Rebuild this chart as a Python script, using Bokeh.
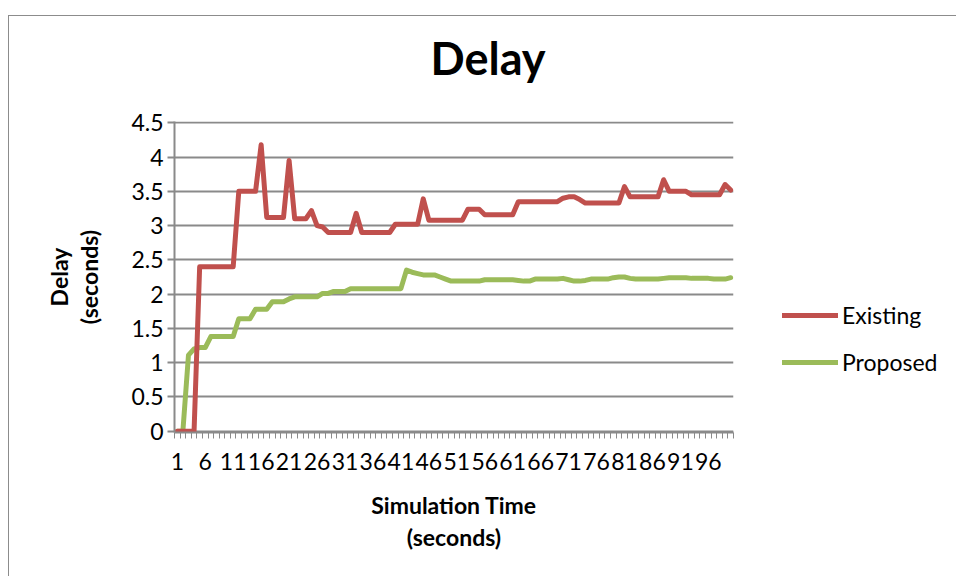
from bokeh.plotting import figure
from bokeh.layouts import row
from bokeh.models import FixedTicker, CustomJSTickFormatter, Legend, LegendItem, Title
from bokeh.embed import file_html
from bokeh.resources import INLINE

# ---- data ----
time = list(range(1, 101))  # simulation time categories (seconds)

existing = [
    0, 0, 0, 0, 2.4, 2.4, 2.4, 2.4, 2.4, 2.4,
    2.4, 3.5, 3.5, 3.5, 3.5, 4.18, 3.12, 3.12, 3.12, 3.12,
    3.95, 3.1, 3.1, 3.1, 3.22, 3.0, 2.98, 2.9, 2.9, 2.9,
    2.9, 2.9, 3.18, 2.9, 2.9, 2.9, 2.9, 2.9, 2.9, 3.02,
    3.02, 3.02, 3.02, 3.02, 3.39, 3.08, 3.08, 3.08, 3.08, 3.08,
    3.08, 3.08, 3.24, 3.24, 3.24, 3.16, 3.16, 3.16, 3.16, 3.16,
    3.16, 3.35, 3.35, 3.35, 3.35, 3.35, 3.35, 3.35, 3.35, 3.4,
    3.42, 3.42, 3.38, 3.33, 3.33, 3.33, 3.33, 3.33, 3.33, 3.33,
    3.57, 3.42, 3.42, 3.42, 3.42, 3.42, 3.42, 3.67, 3.5, 3.5,
    3.5, 3.5, 3.45, 3.45, 3.45, 3.45, 3.45, 3.45, 3.6, 3.52,
]

proposed = [
    0, 0, 1.11, 1.2, 1.22, 1.22, 1.38, 1.38, 1.38, 1.38,
    1.38, 1.64, 1.64, 1.64, 1.78, 1.78, 1.78, 1.89, 1.89, 1.89,
    1.93, 1.96, 1.96, 1.96, 1.96, 1.96, 2.01, 2.01, 2.04, 2.04,
    2.04, 2.08, 2.08, 2.08, 2.08, 2.08, 2.08, 2.08, 2.08, 2.08,
    2.08, 2.35, 2.32, 2.3, 2.28, 2.28, 2.28, 2.25, 2.22, 2.19,
    2.19, 2.19, 2.19, 2.19, 2.19, 2.21, 2.21, 2.21, 2.21, 2.21,
    2.21, 2.2, 2.19, 2.19, 2.22, 2.22, 2.22, 2.22, 2.22, 2.23,
    2.21, 2.19, 2.19, 2.2, 2.22, 2.22, 2.22, 2.22, 2.24, 2.25,
    2.25, 2.23, 2.22, 2.22, 2.22, 2.22, 2.22, 2.23, 2.24, 2.24,
    2.24, 2.24, 2.23, 2.23, 2.23, 2.23, 2.22, 2.22, 2.22, 2.24,
]

x_tick_values = [1, 6, 11, 16, 21, 26, 31, 36, 41, 46, 51, 56, 61, 66, 71, 76, 81, 86, 91, 96]
y_tick_values = [0, 0.5, 1, 1.5, 2, 2.5, 3, 3.5, 4, 4.5]

chart_title = "Delay"
series_names = ["Existing", "Proposed"]
series_colors = ["#C0504D", "#9BBB59"]

GRID = "#8a8a8a"
FONT = "Lato"

# ---- layout constants ----
H = 560
LEFT, PLOT_W, RIGHT = 165, 559, 30
W_MAIN = LEFT + PLOT_W + RIGHT
W_LEG = 947 - W_MAIN
n_cat = len(time)

p = figure(
    width=W_MAIN, height=H,
    output_backend="svg", toolbar_location=None, title=None,
    x_range=(0.5, n_cat + 0.5), y_range=(-0.02, 4.52),
    min_border_left=LEFT, min_border_right=RIGHT,
    min_border_top=105, min_border_bottom=144,
)
p.outline_line_color = None
p.background_fill_color = "white"
p.border_fill_color = "white"

# title: a small spacer next to the frame, then the chart title above it
p.add_layout(Title(text=" ", text_font_size="2px", standoff=33), "above")
p.add_layout(Title(text=chart_title, align="left", offset=256, standoff=0,
                   text_font=FONT, text_font_style="bold",
                   text_font_size="45px", text_color="black"), "above")

# lines (green first so red is drawn on top)
r_prop = p.line(time, proposed, line_color=series_colors[1], line_width=5,
                line_join="round", line_cap="round")
r_exist = p.line(time, existing, line_color=series_colors[0], line_width=5,
                 line_join="round", line_cap="round")

# x axis
xa = p.xaxis[0]
xa.ticker = FixedTicker(ticks=x_tick_values,
                        minor_ticks=[t - 0.5 for t in range(1, n_cat + 2)])
xa.major_tick_line_color = None
xa.major_tick_in = 0
xa.major_tick_out = 6
xa.minor_tick_in = 0
xa.minor_tick_out = 6
xa.minor_tick_line_color = GRID
xa.minor_tick_line_width = 1
xa.axis_line_color = GRID
xa.axis_line_width = 2
xa.major_label_text_font = FONT
xa.major_label_text_font_size = "23px"
xa.major_label_text_color = "black"
xa.major_label_standoff = 14
xa.axis_label = "Simulation Time\n(seconds)"
xa.axis_label_text_font = FONT
xa.axis_label_text_font_style = "bold"
xa.axis_label_text_font_size = "23px"
xa.axis_label_text_color = "black"
xa.axis_label_text_line_height = 1.17
xa.axis_label_standoff = 18

# y axis
ya = p.yaxis[0]
ya.ticker = FixedTicker(ticks=y_tick_values)
ya.formatter = CustomJSTickFormatter(code="return String(tick);")
ya.major_tick_in = 0
ya.major_tick_out = 7
ya.major_tick_line_color = GRID
ya.major_tick_line_width = 2
ya.minor_tick_line_color = None
ya.axis_line_color = GRID
ya.axis_line_width = 2
ya.major_label_text_font = FONT
ya.major_label_text_font_size = "23px"
ya.major_label_text_color = "black"
ya.major_label_standoff = 4
ya.axis_label = "Delay\n(seconds)"
ya.axis_label_text_font = FONT
ya.axis_label_text_font_style = "bold"
ya.axis_label_text_font_size = "23px"
ya.axis_label_text_color = "black"
ya.axis_label_text_line_height = 1.1
ya.axis_label_standoff = 25

# grid
p.xgrid.visible = False
p.ygrid.ticker = FixedTicker(ticks=y_tick_values)
p.ygrid.grid_line_color = GRID
p.ygrid.grid_line_width = 2

# ---- legend panel (separate canvas to the right, so nothing is clipped) ----
# its frame is aligned with the main frame by the row layout; the series are
# drawn outside its visible range, only their legend entries show
lf = figure(
    width=W_LEG, height=H,
    output_backend="svg", toolbar_location=None,
    x_range=(-3, -2), y_range=(-3, -2),
    x_axis_location=None, y_axis_location=None,
    min_border=0, title=None,
)
lf.outline_line_color = None
lf.grid.visible = False
lf.background_fill_color = "white"
lf.border_fill_color = "white"
leg_exist = lf.line(time, existing, line_color=series_colors[0], line_width=5, line_cap="round")
leg_prop = lf.line(time, proposed, line_color=series_colors[1], line_width=5, line_cap="round")

legend = Legend(
    items=[LegendItem(label=series_names[0], renderers=[leg_exist]),
           LegendItem(label=series_names[1], renderers=[leg_prop])],
    location=(19, 56),
    orientation="vertical",
    border_line_color=None,
    background_fill_alpha=0,
    padding=0, margin=0, spacing=19,
    glyph_width=56, glyph_height=28, label_height=28,
    label_standoff=4,
    label_text_font=FONT, label_text_font_size="23px", label_text_color="black",
)
lf.add_layout(legend)

layout = row(
    p, lf,
    styles={"margin-left": "8px", "margin-top": "15px",
            "border-left": "1px solid #8c8c8c",
            "border-top": "1px solid #8c8c8c"},
)

open("out.html", "w").write(file_html(layout, INLINE))
